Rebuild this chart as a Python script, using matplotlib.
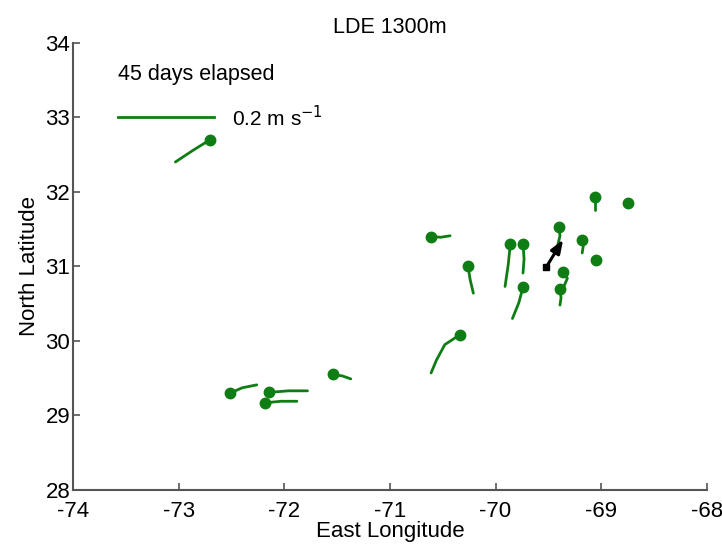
import numpy as np
import matplotlib
matplotlib.use('Agg')
import matplotlib.pyplot as plt

plt.rcParams['font.family'] = ['Liberation Sans', 'DejaVu Sans']
plt.rcParams['axes.unicode_minus'] = False

# float tracks, first point = dot position
track_lon = [
    [-69.06, -69.06, -69.06],
    [-68.75, -68.74],
    [-69.40, -69.39, -69.41],
    [-69.18, -69.17, -69.18],
    [-69.05, -69.02],
    [-70.61, -70.52, -70.43],
    [-69.86, -69.88, -69.91],
    [-69.74, -69.73, -69.74],
    [-70.26, -70.24, -70.21],
    [-69.36, -69.32, -69.35],
    [-69.74, -69.78, -69.84],
    [-69.39, -69.38, -69.39],
    [-70.34, -70.48, -70.56, -70.61],
    [-72.51, -72.40, -72.26],
    [-72.14, -71.96, -71.78],
    [-72.18, -72.03, -71.88],
    [-71.54, -71.45, -71.37],
    [-72.70, -72.87, -73.03],
]
track_lat = [
    [31.93, 31.84, 31.75],
    [31.85, 31.82],
    [31.53, 31.41, 31.29],
    [31.36, 31.27, 31.18],
    [31.09, 31.06],
    [31.40, 31.39, 31.41],
    [31.30, 31.02, 30.73],
    [31.30, 31.10, 30.91],
    [31.00, 30.82, 30.64],
    [30.93, 30.84, 30.74],
    [30.72, 30.51, 30.30],
    [30.69, 30.58, 30.48],
    [30.08, 29.95, 29.74, 29.57],
    [29.30, 29.37, 29.41],
    [29.31, 29.33, 29.33],
    [29.17, 29.19, 29.19],
    [29.55, 29.53, 29.49],
    [32.70, 32.55, 32.40],
]

# mean drift (black arrow)
arrow_start = (-69.52, 30.99)
arrow_end = (-69.36, 31.36)

green = '#0f7d14'

fig = plt.figure(figsize=(7.22, 5.46), dpi=100)
ax = fig.add_axes([0.101, 0.1026, 0.878, 0.8192])

for lon, lat in zip(track_lon, track_lat):
    ax.plot(lon, lat, color=green, lw=2.0, solid_capstyle='round')
    ax.plot(lon[0], lat[0], 'o', color=green, ms=7.5, mec=green)

ax.annotate('', xy=arrow_end, xytext=arrow_start,
            arrowprops=dict(arrowstyle='-|>,head_length=0.8,head_width=0.3',
                            color='k', lw=2.2, shrinkA=0, shrinkB=0))
ax.plot(arrow_start[0], arrow_start[1], 's', color='k', ms=5)

# scale bar
ax.plot([-73.57, -72.66], [33.0, 33.0], color=green, lw=2.0)
ax.text(-72.49, 33.0, '0.2 m s$^{-1}$', fontsize=15, va='center', ha='left')
ax.text(-73.57, 33.57, '45 days elapsed', fontsize=15.5, va='center', ha='left')

ax.set_xlim(-74, -68)
ax.set_ylim(28, 34)
ax.set_xticks(np.arange(-74, -67, 1))
ax.set_yticks(np.arange(28, 35, 1))
ax.tick_params(direction='in', labelsize=16, length=5, width=1.2, color='#555555')
ax.tick_params(axis='y', pad=2)
ax.tick_params(axis='x', pad=8)
for s in ['top', 'right']:
    ax.spines[s].set_visible(False)
for s in ['left', 'bottom']:
    ax.spines[s].set_color('#555555')
    ax.spines[s].set_linewidth(1.5)

ax.set_xlabel('East Longitude', fontsize=16, labelpad=-1)
ax.set_ylabel('North Latitude', fontsize=16, labelpad=4)
ax.set_title('LDE 1300m', fontsize=15.5, pad=7)

plt.savefig('out.png', dpi=100)
